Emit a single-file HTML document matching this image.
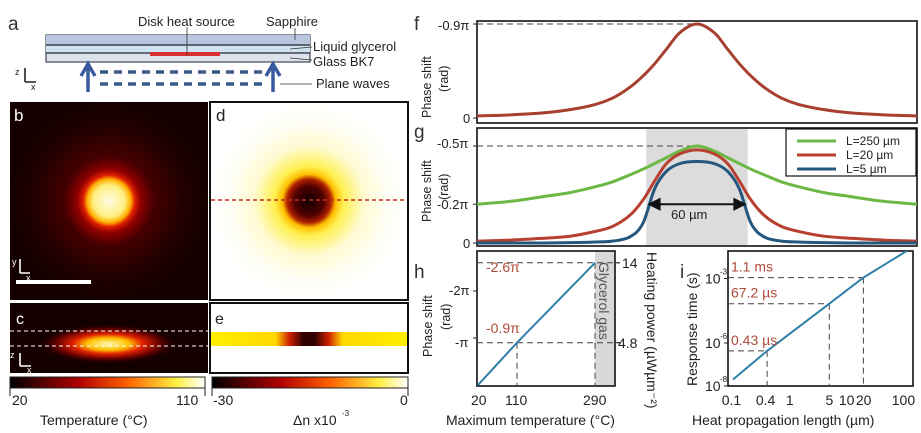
<!DOCTYPE html>
<html><head><meta charset="utf-8">
<style>
html,body{margin:0;padding:0;background:#fff;}
svg{display:block;font-family:"Liberation Sans",sans-serif;}
</style></head>
<body>
<svg width="921" height="433" viewBox="0 0 921 433" xmlns="http://www.w3.org/2000/svg">
<defs>
<radialGradient id="hotspot" cx="0.5" cy="0.5" r="0.5">
<stop offset="0" stop-color="#fffbe8"/><stop offset="0.16" stop-color="#fff080"/><stop offset="0.22" stop-color="#ffb000"/><stop offset="0.26" stop-color="#e02000"/><stop offset="0.32" stop-color="#900000"/><stop offset="0.45" stop-color="#450000"/><stop offset="0.75" stop-color="#220000"/><stop offset="1" stop-color="#150000"/>
</radialGradient>
<radialGradient id="dn" cx="0.5" cy="0.5" r="0.5">
<stop offset="0" stop-color="#100000"/><stop offset="0.15" stop-color="#500000"/><stop offset="0.22" stop-color="#b02000"/><stop offset="0.27" stop-color="#ffc000"/><stop offset="0.35" stop-color="#fff050"/><stop offset="0.55" stop-color="#fffad0"/><stop offset="0.8" stop-color="#fffef5"/><stop offset="1" stop-color="#ffffff"/>
</radialGradient>
<radialGradient id="cglow" cx="0.5" cy="0.5" r="0.5">
<stop offset="0" stop-color="#fff8b0"/><stop offset="0.3" stop-color="#ffc000"/><stop offset="0.5" stop-color="#e02000"/><stop offset="0.75" stop-color="#600000"/><stop offset="1" stop-color="#150000" stop-opacity="0"/>
</radialGradient>
<linearGradient id="eband" x1="0" x2="1" y1="0" y2="0">
<stop offset="0" stop-color="#ffee00"/><stop offset="0.33" stop-color="#ffd800"/><stop offset="0.4" stop-color="#d02000"/><stop offset="0.47" stop-color="#300000"/><stop offset="0.53" stop-color="#300000"/><stop offset="0.6" stop-color="#d02000"/><stop offset="0.67" stop-color="#ffd800"/><stop offset="1" stop-color="#ffee00"/>
</linearGradient>
<linearGradient id="cbar" x1="0" x2="1"><stop offset="0" stop-color="#000"/><stop offset="0.35" stop-color="#b00000"/><stop offset="0.6" stop-color="#ff6000"/><stop offset="0.85" stop-color="#ffee40"/><stop offset="1" stop-color="#fff"/></linearGradient>
</defs>

<g>
<text x="8" y="30" font-size="19" fill="#333">a</text>
<rect x="46" y="35" width="264" height="27" fill="#dde3ea" stroke="#445" stroke-width="1.2"/>
<rect x="46" y="35" width="264" height="10" fill="#b8c6de"/>
<rect x="46" y="45" width="264" height="8" fill="#cfe2f0"/>
<line x1="46" y1="45" x2="310" y2="45" stroke="#223" stroke-width="1.2"/>
<line x1="46" y1="53" x2="310" y2="53" stroke="#223" stroke-width="1.2"/>
<rect x="150" y="52" width="70" height="4" fill="#d83030"/>
<line x1="187" y1="27" x2="187" y2="55" stroke="#333" stroke-width="0.8"/>
<text x="138" y="26" font-size="13" fill="#222">Disk heat source</text>
<text x="266" y="26" font-size="13" fill="#222">Sapphire</text>
<line x1="295" y1="28" x2="295" y2="40" stroke="#333" stroke-width="0.8"/>
<text x="313" y="51" font-size="13" fill="#222">Liquid glycerol</text>
<text x="313" y="66" font-size="13" fill="#222">Glass BK7</text>
<line x1="290" y1="49" x2="312" y2="47" stroke="#333" stroke-width="0.8"/>
<line x1="290" y1="58" x2="312" y2="60" stroke="#333" stroke-width="0.8"/>
<line x1="100" y1="72" x2="265" y2="72" stroke="#3a5a8a" stroke-width="3.5" stroke-dasharray="8,6"/>
<line x1="100" y1="84" x2="265" y2="84" stroke="#3a5a8a" stroke-width="3.5" stroke-dasharray="8,6"/>
<path d="M88 92 V66 M81 76 L88 64 L95 76" stroke="#3a5aa0" stroke-width="3.5" fill="none"/>
<path d="M273 92 V66 M266 76 L273 64 L280 76" stroke="#3a5aa0" stroke-width="3.5" fill="none"/>
<line x1="280" y1="84" x2="312" y2="84" stroke="#333" stroke-width="0.8"/>
<text x="316" y="88" font-size="13" fill="#222">Plane waves</text>
<text x="15" y="75" font-size="9" fill="#222">z</text><path d="M25 82 V68 M25 82 H36" stroke="#222" stroke-width="1.6"/><text x="31" y="90" font-size="9" fill="#222">x</text>
</g>

<g>
<rect x="10" y="102" width="198" height="198" fill="url(#hotspot)"/>
<text x="14" y="121" font-size="17" fill="#fff">b</text>
<rect x="16" y="280" width="75" height="4" fill="#fff"/>
<text x="12" y="265" font-size="9" fill="#fff">y</text><path d="M20 273 V259 M20 273 H30" stroke="#fff" stroke-width="1.6"/><text x="26" y="281" font-size="9" fill="#fff">x</text>
</g>
<g>
<rect x="210" y="102" width="198" height="198" fill="url(#dn)" stroke="#111" stroke-width="2"/>
<text x="216" y="121" font-size="17" fill="#222">d</text>
<line x1="211" y1="200" x2="407" y2="200" stroke="#c03020" stroke-width="1.5" stroke-dasharray="4,3"/>
</g>
<g>
<rect x="10" y="303" width="198" height="70" fill="#150000"/>
<ellipse cx="108" cy="344" rx="70" ry="20" fill="url(#cglow)"/>
<text x="16" y="324" font-size="16" fill="#fff">c</text>
<line x1="10" y1="331" x2="208" y2="331" stroke="#fff" stroke-width="1" stroke-dasharray="4,3"/>
<line x1="10" y1="346" x2="208" y2="346" stroke="#fff" stroke-width="1" stroke-dasharray="4,3"/>
<text x="10" y="358" font-size="9" fill="#fff">z</text><path d="M20 366 V353 M20 366 H31" stroke="#fff" stroke-width="1.6"/><text x="27" y="373" font-size="9" fill="#fff">x</text>
</g>
<g>
<rect x="210" y="303" width="198" height="70" fill="#fff" stroke="#111" stroke-width="2"/>
<rect x="211" y="332" width="196" height="14" fill="url(#eband)"/>
<text x="215" y="324" font-size="16" fill="#222">e</text>
</g>
<g>
<rect x="10" y="377" width="195" height="11" fill="url(#cbar)" stroke="#222" stroke-width="1"/>
<path d="M10 377 V396 M205 377 V396" stroke="#222" stroke-width="1"/>
<text x="12" y="405" font-size="14" fill="#222">20</text>
<text x="176" y="405" font-size="14" fill="#222">110</text>
<text x="40" y="425" font-size="14" fill="#222">Temperature (°C)</text>
</g>
<g>
<rect x="212" y="377" width="196" height="11" fill="url(#cbar)" stroke="#222" stroke-width="1"/>
<path d="M212 377 V396 M408 377 V396" stroke="#222" stroke-width="1"/>
<text x="213" y="405" font-size="14" fill="#222">-30</text>
<text x="400" y="405" font-size="14" fill="#222">0</text>
<text x="293" y="425" font-size="14" fill="#222">Δn x10</text><text x="342" y="416" font-size="8" fill="#222">-3</text>
</g>

<g id="charts"></g>
</svg>
<script>
// ---- data ----
const posUm = [-130,-110,-90,-75,-60,-50,-40,-32,-25,-18,-10,0,10,18,25,32,40,50,60,75,90,110,130];
const phaseF = [0.02,0.03,0.05,0.08,0.13,0.19,0.29,0.4,0.52,0.66,0.82,0.9,0.82,0.66,0.52,0.4,0.29,0.19,0.13,0.08,0.05,0.03,0.02];
const phaseG250 = [0.2,0.215,0.24,0.26,0.29,0.315,0.35,0.38,0.41,0.44,0.475,0.5,0.475,0.44,0.41,0.38,0.35,0.315,0.29,0.26,0.24,0.215,0.2];
const phaseG20 = [0.01,0.015,0.025,0.035,0.06,0.085,0.14,0.22,0.32,0.41,0.46,0.48,0.46,0.41,0.32,0.22,0.14,0.085,0.06,0.035,0.025,0.015,0.01];
const phaseG5 = [0,0,0,0.002,0.005,0.01,0.03,0.1,0.28,0.37,0.41,0.42,0.41,0.37,0.28,0.1,0.03,0.01,0.005,0.002,0,0,0];
const tempC = [20,110,290];
const phaseH = [0,-0.9,-2.6];
const lenUm = [0.1,0.4,5,20,120];
const respS = [2e-8,4.3e-7,6.72e-5,1.1e-3,2e-2];
const markedIdx = [1,2,3];
const respLabels = ["0.43 µs","67.2 µs","1.1 ms"];

const NS="http://www.w3.org/2000/svg";
const root=document.getElementById('charts');
function mk(tag,attrs,parent){const e=document.createElementNS(NS,tag);for(const k in attrs)e.setAttribute(k,attrs[k]);(parent||root).appendChild(e);return e;}
function txt(x,y,s,size,fill,extra){const t=mk('text',Object.assign({x:x,y:y,'font-size':size,fill:fill||'#222'},extra||{}));t.textContent=s;return t;}
function pathD(xs,ys,sx,sy){return xs.map((x,i)=>(i?'L':'M')+sx(x).toFixed(1)+' '+sy(ys[i]).toFixed(1)).join(' ');}
function smoothD(xs,ys,sx,sy){
  const P=xs.map((x,i)=>[sx(x),sy(ys[i])]);
  let d='M'+P[0][0].toFixed(1)+' '+P[0][1].toFixed(1);
  for(let i=0;i<P.length-1;i++){
    const p0=P[Math.max(0,i-1)],p1=P[i],p2=P[i+1],p3=P[Math.min(P.length-1,i+2)];
    const c1=[p1[0]+(p2[0]-p0[0])/6,p1[1]+(p2[1]-p0[1])/6];
    const c2=[p2[0]-(p3[0]-p1[0])/6,p2[1]-(p3[1]-p1[1])/6];
    d+=` C${c1[0].toFixed(1)} ${c1[1].toFixed(1)} ${c2[0].toFixed(1)} ${c2[1].toFixed(1)} ${p2[0].toFixed(1)} ${p2[1].toFixed(1)}`;
  }
  return d;
}

// ---- panel f ----
const fx=v=>697+v*(220/130);
const fy=v=>118-v*(94/0.9);
let g=mk('g',{});


mk('rect',{x:477,y:21,width:440,height:102,fill:'#fff',stroke:'#111','stroke-width':1.6},g);
mk('line',{x1:477,y1:fy(0.9),x2:697,y2:fy(0.9),stroke:'#444','stroke-dasharray':'6,4'},g);
let p=mk('path',{d:smoothD(posUm,phaseF,fx,fy),fill:'none',stroke:'#a84030','stroke-width':3,'stroke-linejoin':'round'},g);


txt(414,30,'f',19,'#333');
txt(438,30,'-0.9π',13,'#222');
txt(463,123,'0',13,'#222');
mk('line',{x1:473,y1:fy(0.9),x2:477,y2:fy(0.9),stroke:'#222'});
mk('line',{x1:473,y1:fy(0),x2:477,y2:fy(0),stroke:'#222'});
txt(0,0,'Phase shift',12.5,'#222',{transform:'translate(431,118) rotate(-90)'});
txt(0,0,'(rad)',12.5,'#222',{transform:'translate(448,92) rotate(-90)'});

// ---- panel g ----
const gy=v=>243-v*(97/0.5);
g=mk('g',{});


mk('rect',{x:477,y:128,width:440,height:118,fill:'#fff',stroke:'#111','stroke-width':1.6},g);
mk('rect',{x:fx(-30),y:129,width:fx(30)-fx(-30),height:116,fill:'#dcdcdc'},g);
mk('line',{x1:477,y1:gy(0.5),x2:697,y2:gy(0.5),stroke:'#444','stroke-dasharray':'6,4'},g);
const gser=[[phaseG250,'#6cb845','g-curve-L250'],[phaseG20,'#b84030','g-curve-L20'],[phaseG5,'#24577e','g-curve-L5']];
gser.forEach(s=>{const e=mk('path',{d:smoothD(posUm,s[0],fx,gy),fill:'none',stroke:s[1],'stroke-width':3,'stroke-linejoin':'round'},g);

});
mk('path',{d:`M${fx(-28)} ${gy(0.2)} H${fx(28)} M${fx(-28)} ${gy(0.2)} l10 -5 v10 z M${fx(28)} ${gy(0.2)} l-10 -5 v10 z`,stroke:'#111','stroke-width':2,fill:'#111'},g);
txt(671,219,'60 µm',13,'#222');
let lg=mk('g',{});


mk('rect',{x:786,y:129,width:130,height:47,fill:'#fff',stroke:'#111','stroke-width':1.2},lg);
[['L=250 µm','#6cb845',141],['L=20 µm','#b84030',155],['L=5 µm','#24577e',169]].forEach(r=>{
mk('line',{x1:797,y1:r[2],x2:836,y2:r[2],stroke:r[1],'stroke-width':3},lg);
const t=txt(846,r[2]+4,r[0],12,'#222');lg.appendChild(t);});
txt(414,138,'g',19,'#333');
txt(437,148,'-0.5π',13,'#222');
txt(437,209,'-0.2π',13,'#222');
txt(463,248,'0',13,'#222');
[0.5,0.2,0].forEach(v=>mk('line',{x1:473,y1:gy(v),x2:477,y2:gy(v),stroke:'#222'}));
txt(0,0,'Phase shift',12.5,'#222',{transform:'translate(431,222) rotate(-90)'});
txt(0,0,'(rad)',12.5,'#222',{transform:'translate(448,200) rotate(-90)'});

// ---- panel h ----
const hx=v=>478+(v-20)*(117/270);
const hy=v=>385+v*(47);
g=mk('g',{});


mk('rect',{x:595,y:251,width:20,height:135,fill:'#d8d8d8'},g);
mk('rect',{x:477,y:251,width:138,height:135,fill:'none',stroke:'#111','stroke-width':1.6},g);
[1,2].forEach(i=>{mk('line',{x1:477,y1:hy(phaseH[i]),x2:620,y2:hy(phaseH[i]),stroke:'#444','stroke-dasharray':'6,4'},g);
mk('line',{x1:hx(tempC[i]),y1:hy(phaseH[i]),x2:hx(tempC[i]),y2:386,stroke:'#444','stroke-dasharray':'6,4'},g);});
p=mk('path',{d:pathD(tempC,phaseH,hx,hy),fill:'none',stroke:'#2f7fa8','stroke-width':2},g);


txt(486,272,'-2.6π',14,'#b04a3a');
txt(486,333,'-0.9π',14,'#b04a3a');
txt(0,0,'Glycerol gas',14,'#555',{transform:'translate(599,262) rotate(90)'});
txt(414,278,'h',19,'#333');
txt(449,295,'-2π',13,'#222');
txt(455,347,'-π',13,'#222');
[-2,-1].forEach(v=>mk('line',{x1:473,y1:hy(v),x2:477,y2:hy(v),stroke:'#222'}));
mk('line',{x1:615,y1:hy(-2.6),x2:620,y2:hy(-2.6),stroke:'#222'});
mk('line',{x1:615,y1:hy(-0.9),x2:620,y2:hy(-0.9),stroke:'#222'});
txt(622,268,'14',14,'#222');
txt(618,348,'4.8',14,'#222');
tempC.forEach(v=>txt(hx(v)-(v>100?12:7),405,String(v),14,'#222'));
txt(446,425,'Maximum temperature (°C)',14,'#222');
txt(0,0,'Phase shift',12.5,'#222',{transform:'translate(432,357) rotate(-90)'});
txt(0,0,'(rad)',12.5,'#222',{transform:'translate(450,330) rotate(-90)'});
txt(0,0,'Heating power (µWµm⁻²)',14,'#222',{transform:'translate(647,252) rotate(90)'});

// ---- panel i ----
const ix=v=>733+(Math.log10(v)+1)*(170/3);
const iy=v=>386-(Math.log10(v)+8)*21.5;
g=mk('g',{});


mk('rect',{x:728,y:251,width:185,height:135,fill:'none',stroke:'#111','stroke-width':1.6},g);
markedIdx.forEach(i=>{mk('line',{x1:728,y1:iy(respS[i]),x2:ix(lenUm[i]),y2:iy(respS[i]),stroke:'#444','stroke-dasharray':'6,4'},g);
mk('line',{x1:ix(lenUm[i]),y1:iy(respS[i]),x2:ix(lenUm[i]),y2:386,stroke:'#444','stroke-dasharray':'6,4'},g);});
const cl=mk('clipPath',{id:'iclip'},g);mk('rect',{x:728,y:251,width:185,height:135},cl);
p=mk('path',{d:pathD(lenUm,respS,ix,iy),fill:'none',stroke:'#2f7fa8','stroke-width':2,'clip-path':'url(#iclip)'},g);


markedIdx.forEach((i,k)=>txt(731,iy(respS[i])-6,respLabels[k],14,'#b04a3a'));
txt(680,278,'i',19,'#333');
[-3,-6,-8].forEach(d=>{const y=iy(Math.pow(10,d));txt(705,y+5,'10',14,'#222');txt(720,y-4,String(d),8,'#222');mk('line',{x1:724,y1:y,x2:728,y2:y,stroke:'#222'});});
[[0.1,'0.1'],[0.4,'0.4'],[1,'1'],[5,'5'],[10,'10'],[20,'20'],[100,'100']].forEach(t=>{const w=t[1].length*7.5;txt(ix(t[0])-w/2,405,t[1],14,'#222');});
txt(692,425,'Heat propagation length (µm)',14,'#222');
txt(0,0,'Response time (s)',14,'#222',{transform:'translate(697,386) rotate(-90)'});
</script>
</body></html>
